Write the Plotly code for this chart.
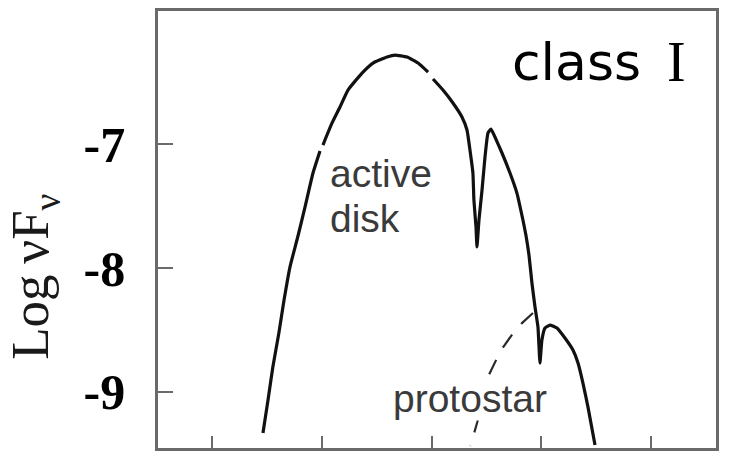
import plotly.graph_objects as go

# Class I protostar SED: log(nu F_nu) against log(nu)
# Disk + envelope emission (solid); None marks breaks in the drawn line
log_nu_disk = [
    11.461, 11.507, 11.551, 11.606, 11.653, 11.707, 11.780, 11.844, 11.917, 11.963, 11.981,
    None,
    12.008, 12.026, 12.090, 12.163, 12.236, 12.364, 12.464, 12.592, 12.665, 12.774, 12.875, 12.966,
    None,
    13.011, 13.102, 13.193, 13.275, 13.321, 13.348, 13.375, 13.384, 13.403, 13.412,
    13.430, 13.458, 13.485, 13.512, 13.540, 13.576, 13.640, 13.713, 13.776, 13.831,
    13.858, 13.886, 13.913, 13.941, 13.968, 13.986, 14.004, 14.032, 14.077, 14.141,
    14.214, 14.287, 14.333, 14.378, 14.424, 14.488,
]
log_flux_disk = [
    -9.334, -9.067, -8.800, -8.525, -8.259, -7.992, -7.741, -7.507, -7.232, -7.103, -7.054,
    None,
    -7.006, -6.965, -6.828, -6.698, -6.561, -6.424, -6.343, -6.294, -6.278, -6.294, -6.343, -6.416,
    None,
    -6.472, -6.561, -6.666, -6.779, -6.884, -7.046, -7.232, -7.450, -7.669, -7.830,
    -7.612, -7.369, -7.103, -6.909, -6.876, -6.941, -7.070, -7.232, -7.394, -7.612,
    -7.733, -7.895, -8.121, -8.315, -8.477, -8.768, -8.582, -8.485, -8.461, -8.485,
    -8.566, -8.663, -8.768, -8.930, -9.124, -9.431,
]

# Bare protostar photosphere (dashed)
log_nu_star = [13.922, 13.822, 13.735, 13.626, 13.516, 13.461, 13.415, 13.352]
log_flux_star = [-8.364, -8.445, -8.534, -8.671, -8.873, -9.051, -9.245, -9.439]

x_ticks = [11, 12, 13, 14, 15]
y_ticks = [-7, -8, -9]
y_tick_text = ["-7", "-8", "-9"]

fig = go.Figure()
fig.add_trace(go.Scatter(
    x=log_nu_star, y=log_flux_star, mode="lines",
    line=dict(color="#2a2a2a", width=2.2, dash="16px,14px"),
    hoverinfo="skip", showlegend=False,
))
fig.add_trace(go.Scatter(
    x=log_nu_disk, y=log_flux_disk, mode="lines",
    line=dict(color="#111111", width=3.2, shape="spline", smoothing=0.4),
    connectgaps=False, hoverinfo="skip", showlegend=False,
))

frame = "#6a6a6a"
fig.update_xaxes(
    range=[10.504, 15.591], tickvals=x_ticks, showticklabels=False,
    ticks="inside", ticklen=12, tickwidth=2, tickcolor=frame,
    showline=True, linecolor=frame, linewidth=2.5, mirror=True,
    showgrid=False, zeroline=False,
)
fig.update_yaxes(
    range=[-9.455, -5.922], tickvals=y_ticks, ticktext=y_tick_text,
    ticks="inside", ticklen=15, tickwidth=2, tickcolor=frame,
    tickfont=dict(family="Liberation Serif", size=50, color="#000000", weight="bold"),
    ticklabelstandoff=20,
    showline=True, linecolor=frame, linewidth=2.5, mirror=True,
    showgrid=False, zeroline=False,
)

label_font = dict(family="Liberation Sans", size=39, color="#3a3a3a")
annotations = [
    dict(text="active", x=12.054, y=-7.236, xref="x", yref="y",
         xanchor="left", yanchor="middle", showarrow=False, font=label_font),
    dict(text="disk", x=12.054, y=-7.600, xref="x", yref="y",
         xanchor="left", yanchor="middle", showarrow=False, font=label_font),
    dict(text="protostar", x=12.637, y=-9.055, xref="x", yref="y",
         xanchor="left", yanchor="middle", showarrow=False, font=label_font,
         bgcolor="white", borderpad=0),
    dict(text="class", x=13.713, y=-6.335, xref="x", yref="y",
         xanchor="left", yanchor="middle", showarrow=False,
         font=dict(family="DejaVu Sans", size=52, color="#000000")),
    dict(text="I", x=15.125, y=-6.335, xref="x", yref="y",
         xanchor="left", yanchor="middle", showarrow=False,
         font=dict(family="Liberation Serif", size=56, color="#000000")),
    dict(text="Log\u2009νF<sub>ν</sub>", x=-0.222, y=0.392, xref="paper", yref="paper",
         xanchor="center", yanchor="middle", textangle=-90, showarrow=False,
         font=dict(family="Liberation Serif", size=53, color="#1a1a1a")),
]

fig.update_layout(
    width=730, height=455,
    margin=dict(l=158, r=14, t=11, b=7),
    paper_bgcolor="white", plot_bgcolor="white",
    annotations=annotations,
    showlegend=False,
)

fig.write_html("out.html")
